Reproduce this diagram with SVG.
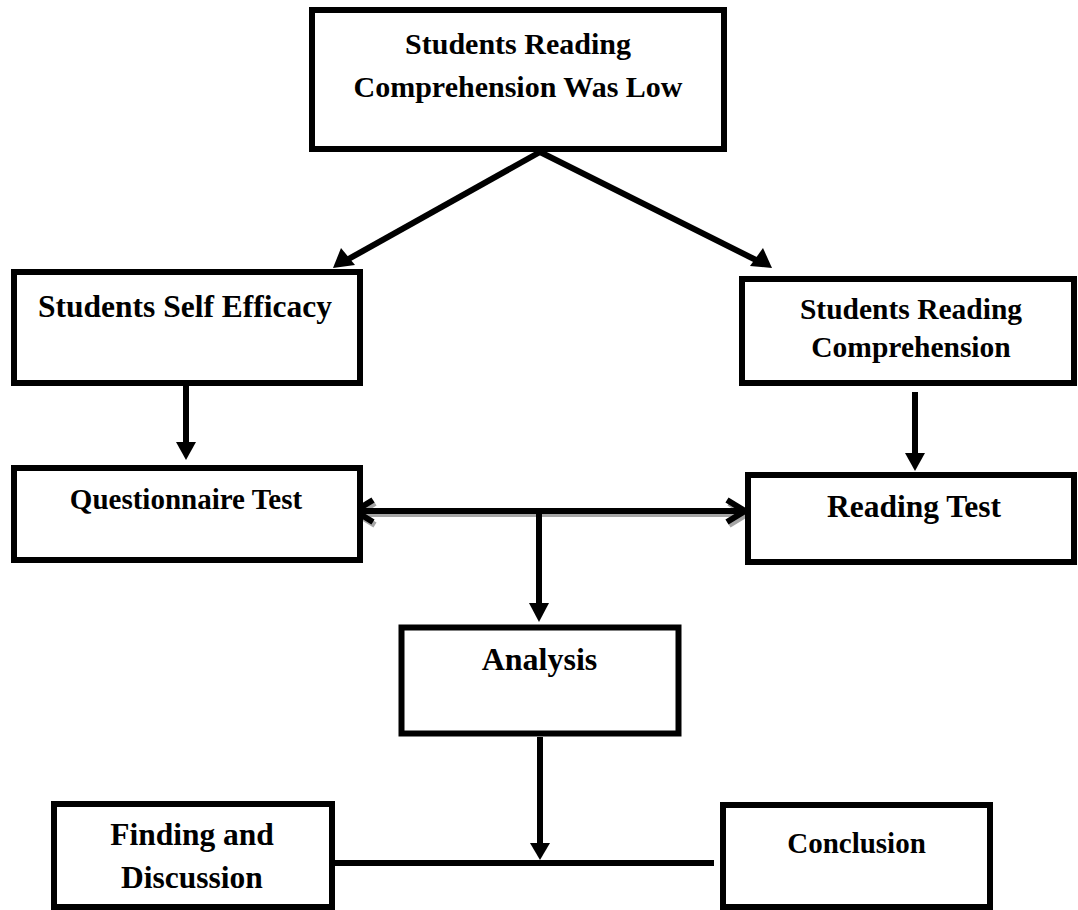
<svg xmlns="http://www.w3.org/2000/svg" width="1078" height="910" viewBox="0 0 1078 910">
<defs>
<style>
.box{fill:#fff;stroke:#000;stroke-width:6}
.t{font-family:"Liberation Serif","Times New Roman",serif;font-weight:bold;fill:#000;text-anchor:middle}
.c{stroke:#000;stroke-width:6;fill:none}
.h{fill:#000;stroke:none}
</style>
</defs>
<rect width="1078" height="910" fill="#fff"/>
<g id="connectors">
  <!-- diagonals -->
  <line class="c" x1="540" y1="152" x2="345" y2="261"/>
  <polygon class="h" points="333,268 341,248 355,265"/>
  <line class="c" x1="540" y1="152" x2="758" y2="261"/>
  <polygon class="h" points="772,268 750,266 763,248"/>
  <!-- self efficacy -> questionnaire -->
  <line class="c" x1="186" y1="386" x2="186" y2="445"/>
  <polygon class="h" points="176,442 196,442 186,460"/>
  <!-- reading comp -> reading test -->
  <line class="c" x1="915" y1="392" x2="915" y2="456"/>
  <polygon class="h" points="905,453 925,453 915,471"/>
  <!-- double arrow with shadow -->
  <g opacity="0.35" transform="translate(2,3)">
    <line class="c" x1="355" y1="511" x2="745" y2="511" stroke-width="5"/>
    <polyline class="c" points="373,500 355,511 373,522" stroke-width="5"/>
    <polyline class="c" points="727,500 745,511 727,522" stroke-width="5"/>
  </g>
  <line class="c" x1="356" y1="511" x2="744" y2="511" stroke-width="5"/>
  <polyline class="c" points="373,500 355,511 373,522" stroke-width="5"/>
  <polyline class="c" points="727,500 745,511 727,522" stroke-width="5"/>
  <!-- to analysis -->
  <line class="c" x1="539" y1="511" x2="539" y2="606"/>
  <polygon class="h" points="529,603 549,603 539,622"/>
  <!-- analysis down -->
  <line class="c" x1="540" y1="737" x2="540" y2="846"/>
  <polygon class="h" points="530,843 550,843 540,860"/>
  <!-- bottom horizontal -->
  <line class="c" x1="335" y1="863" x2="714" y2="863" stroke-width="7"/>
</g>
<g id="n-top">
  <rect class="box" x="312" y="10" width="412" height="139"/>
  <text class="t" x="518" y="54" font-size="30">Students Reading</text>
  <text class="t" x="518" y="97" font-size="30">Comprehension Was Low</text>
</g>
<g id="n-self">
  <rect class="box" x="14" y="272" width="346" height="111"/>
  <text class="t" x="185" y="317" font-size="31.5">Students Self Efficacy</text>
</g>
<g id="n-readcomp">
  <rect class="box" x="742" y="279" width="332" height="104"/>
  <text class="t" x="911" y="319" font-size="29.5">Students Reading</text>
  <text class="t" x="911" y="357" font-size="29.5">Comprehension</text>
</g>
<g id="n-quest">
  <rect class="box" x="14" y="468" width="346" height="92"/>
  <text class="t" x="186" y="509" font-size="29">Questionnaire Test</text>
</g>
<g id="n-readtest">
  <rect class="box" x="748" y="475" width="326" height="87"/>
  <text class="t" x="914" y="517" font-size="31.5">Reading Test</text>
</g>
<g id="n-analysis">
  <rect class="box" x="401.5" y="627.5" width="277" height="106" stroke-width="7"/>
  <text class="t" x="539.5" y="670" font-size="32">Analysis</text>
</g>
<g id="n-finding">
  <rect class="box" x="54" y="804" width="278" height="103"/>
  <text class="t" x="192" y="845" font-size="31.5">Finding and</text>
  <text class="t" x="192" y="888" font-size="31.5">Discussion</text>
</g>
<g id="n-conclusion">
  <rect class="box" x="723" y="805" width="267" height="102" stroke-width="5.5"/>
  <text class="t" x="856.5" y="853" font-size="29">Conclusion</text>
</g>
</svg>
